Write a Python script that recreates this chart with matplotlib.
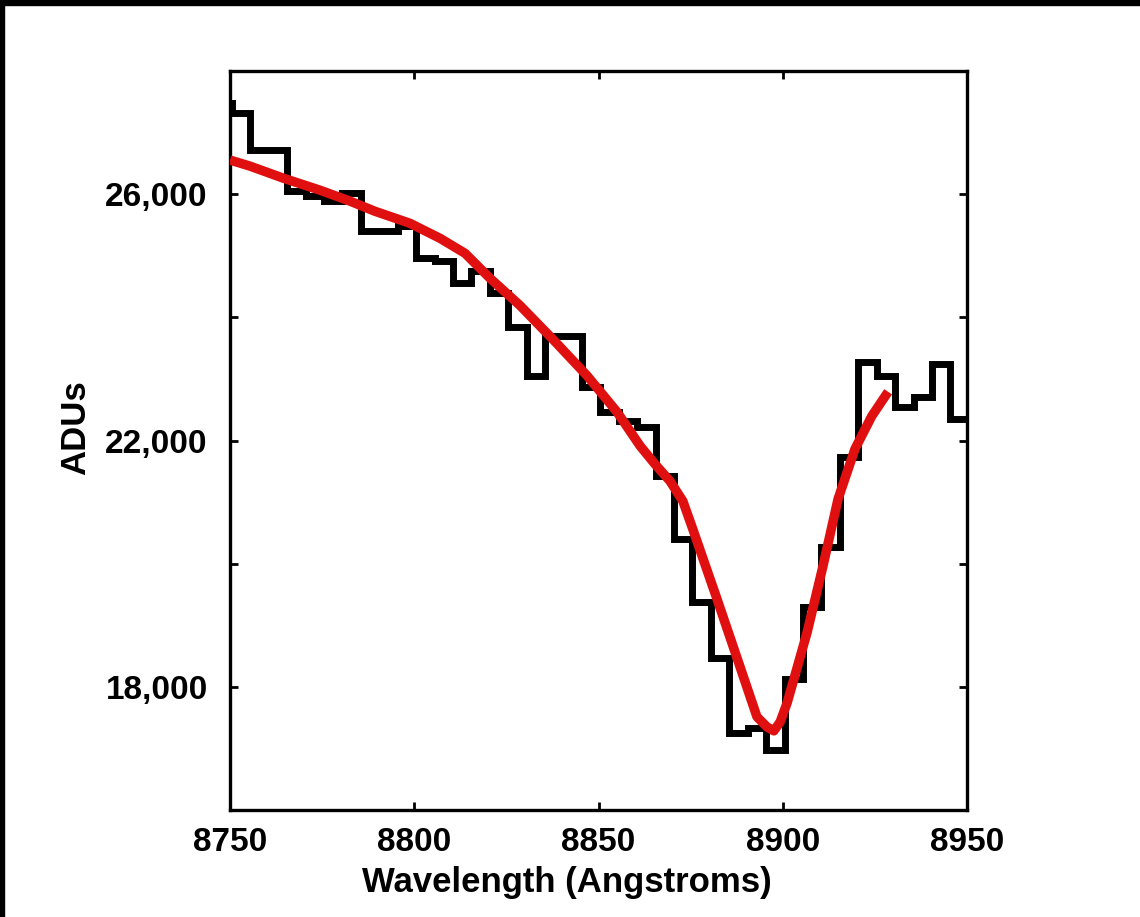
import matplotlib
matplotlib.use("Agg")
import matplotlib.pyplot as plt
from matplotlib.patches import Rectangle

# Binned spectrum (bin centres, Angstroms) and counts (ADUs)
wavelength = [8748, 8753, 8758, 8763, 8768, 8773, 8778, 8783, 8788, 8793,
              8798, 8803, 8808, 8813, 8818, 8823, 8828, 8833, 8838, 8843,
              8848, 8853, 8858, 8863, 8868, 8873, 8878, 8883, 8888, 8893,
              8898, 8903, 8908, 8913, 8918, 8923, 8928, 8933, 8938, 8943,
              8948, 8953]
adus = [27480, 27320, 26720, 26720, 26050, 25970, 25890, 26020, 25400, 25400,
        25480, 24960, 24910, 24550, 24760, 24390, 23850, 23040, 23700, 23700,
        22870, 22470, 22320, 22220, 21420, 20400, 19370, 18470, 17250, 17330,
        16980, 18120, 19290, 20270, 21730, 23280, 23050, 22550, 22710, 23250,
        22350, 22350]

# Fitted line profile
fit_wl = [8750.0, 8755.4, 8764.4, 8774.4, 8782.6, 8789.3, 8798.8, 8807.0, 8813.8, 8820.6,
          8828.7, 8837.7, 8846.9, 8855.0, 8861.3, 8865.3, 8869.4, 8872.9, 8875.6, 8878.9,
          8882.2, 8888.4, 8893.0, 8895.7, 8897.6, 8899.3, 8901.2, 8903.9, 8906.6, 8910.9,
          8915.0, 8919.6, 8924.2, 8928.6]
fit_adus = [26554, 26456, 26261, 26065, 25886, 25723, 25528, 25283, 25039, 24632,
            24192, 23638, 23052, 22465, 21911, 21618, 21341, 21015, 20559, 19989,
            19419, 18327, 17513, 17350, 17285, 17431, 17741, 18311, 18881, 19956,
            21048, 21863, 22400, 22791]

xticks = [8750, 8800, 8850, 8900, 8950]
xticklabels = ["8750", "8800", "8850", "8900", "8950"]
yticks = [18000, 20000, 22000, 24000, 26000]
yticklabels = ["18,000", "", "22,000", "", "26,000"]

plt.rcParams['font.family'] = ['Liberation Sans', 'DejaVu Sans']

W, H = 1140, 917
fig = plt.figure(figsize=(W / 100, H / 100), dpi=100)
fig.patch.set_facecolor('white')

ax = fig.add_axes([230 / W, 1 - 810 / H, (967 - 230) / W, (810 - 71) / H])

ax.step(wavelength, adus, where='mid', color='black', lw=5.0,
        solid_joinstyle='miter', zorder=2)
ax.plot(fit_wl, fit_adus, color='#e01010', lw=6.8, solid_capstyle='butt',
        solid_joinstyle='round', zorder=3)

ax.set_xlim(8750, 8950)
ax.set_ylim(16000, 28000)
ax.set_xticks(xticks)
ax.set_xticklabels(xticklabels)
ax.set_yticks(yticks)
ax.set_yticklabels(yticklabels)

ax.tick_params(direction='in', length=6, width=2, top=True, right=True,
               labelsize=24, pad=12)
ax.tick_params(axis='y', pad=16)
for lab in ax.get_xticklabels() + ax.get_yticklabels():
    lab.set_fontweight('bold')
for sp in ax.spines.values():
    sp.set_linewidth(2.4)

ax.set_xlabel("Wavelength (Angstroms)", fontsize=25, fontweight='bold')
ax.xaxis.set_label_coords((567 - 230) / 737, (810 - 866) / 739)
ax.set_ylabel("ADUs", fontsize=25, fontweight='bold')
ax.yaxis.set_label_coords((92 - 230) / 737, (810 - 428) / 739)

# Black frame strips at top and left of the image
fig.patches.append(Rectangle((0, 1 - 5 / H), 1, 5 / H, transform=fig.transFigure,
                             color='black', zorder=10))
fig.patches.append(Rectangle((0, 0), 4 / W, 1, transform=fig.transFigure,
                             color='black', zorder=10))

fig.savefig("out.png", dpi=100)
